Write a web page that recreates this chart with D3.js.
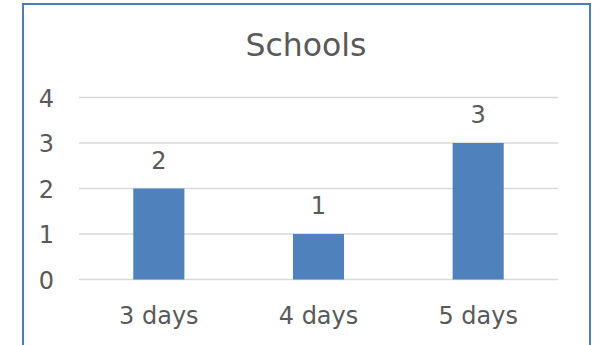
<!DOCTYPE html>
<html>
<head>
<meta charset="utf-8">
<script src="https://cdn.jsdelivr.net/npm/d3@7"></script>
<style>
  html, body { margin: 0; padding: 0; background: #fff; }
  svg { display: block; }
  text { font-family: "DejaVu Sans", sans-serif; fill: #595959; }
</style>
</head>
<body>
<svg id="chart" width="600" height="345"></svg>
<script>
// Chart data
const title = "Schools";
const categories = ["3 days", "4 days", "5 days"];
const values = [2, 1, 3];
const yTicks = [0, 1, 2, 3, 4];

const svg = d3.select("#chart");
const FONT = "'DejaVu Sans', sans-serif";
const LABEL_SIZE = 24;

// Outer frame of the chart area
svg.append("rect")
  .attr("x", 23).attr("y", 4)
  .attr("width", 567).attr("height", 360)
  .attr("fill", "#fff")
  .attr("stroke", "#4a7ebb")
  .attr("stroke-width", 2);

const plot = { left: 79, right: 558, top: 97.5, bottom: 279.5 };

const x = d3.scaleBand()
  .domain(categories)
  .range([plot.left, plot.right])
  .paddingInner(0.68)
  .paddingOuter(0.34);

const y = d3.scaleLinear()
  .domain([0, 4])
  .range([plot.bottom, plot.top]);

// Horizontal gridlines
svg.append("g")
  .selectAll("line")
  .data(yTicks)
  .join("line")
  .attr("x1", plot.left).attr("x2", plot.right)
  .attr("y1", d => y(d)).attr("y2", d => y(d))
  .attr("stroke", "#d9d9d9")
  .attr("stroke-width", 1.5);

// Y axis labels
const yAxis = d3.axisLeft(y)
  .tickValues(yTicks)
  .tickFormat(d3.format("d"))
  .tickSize(0)
  .tickPadding(0);
const yg = svg.append("g")
  .attr("transform", "translate(54,0)")
  .call(yAxis);
yg.select(".domain").remove();
yg.selectAll("text")
  .attr("text-anchor", "end")
  .attr("dy", "0.36em")
  .attr("font-family", FONT)
  .attr("font-size", LABEL_SIZE)
  .attr("fill", "#595959");

// Bars
svg.append("g")
  .selectAll("rect")
  .data(values)
  .join("rect")
  .attr("x", (d, i) => x(categories[i]))
  .attr("width", x.bandwidth())
  .attr("y", d => y(d))
  .attr("height", d => y(0) - y(d))
  .attr("fill", "#4f81bd");

// Value labels above bars
svg.append("g")
  .selectAll("text")
  .data(values)
  .join("text")
  .attr("x", (d, i) => x(categories[i]) + x.bandwidth() / 2)
  .attr("y", d => y(d) - 20)
  .attr("text-anchor", "middle")
  .attr("font-family", FONT)
  .attr("font-size", LABEL_SIZE)
  .text(d => d);

// X axis labels
const xAxis = d3.axisBottom(x).tickSize(0).tickPadding(0);
const xg = svg.append("g")
  .attr("transform", `translate(0,${plot.bottom})`)
  .call(xAxis);
xg.select(".domain").remove();
xg.selectAll("text")
  .attr("y", 44.5)
  .attr("dy", 0)
  .attr("font-family", FONT)
  .attr("font-size", LABEL_SIZE)
  .attr("fill", "#595959");

// Title
svg.append("text")
  .attr("x", 306)
  .attr("y", 56)
  .attr("text-anchor", "middle")
  .attr("font-family", FONT)
  .attr("font-size", 31.5)
  .text(title);
</script>
</body>
</html>
